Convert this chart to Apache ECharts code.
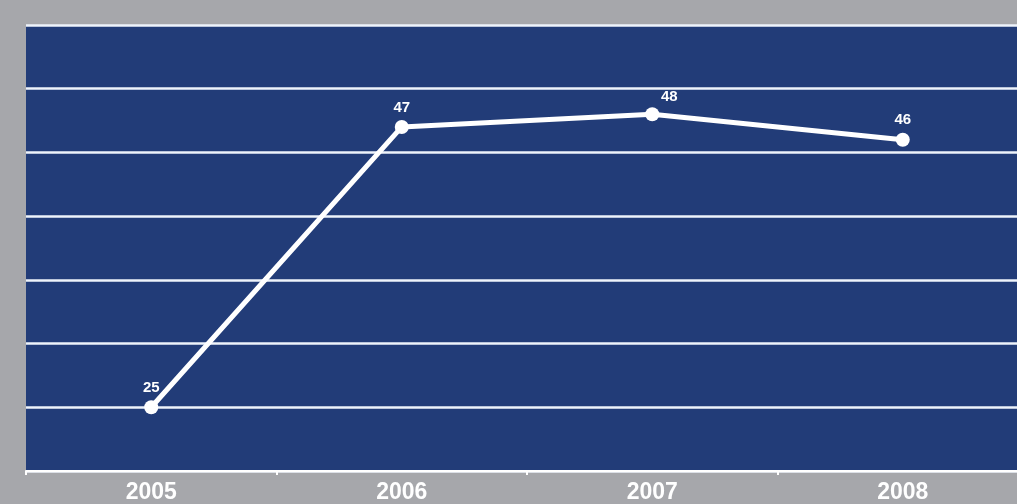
<!DOCTYPE html>
<html><head><meta charset="utf-8">
<script src="https://cdn.jsdelivr.net/npm/echarts@6/dist/echarts.min.js"></script>
<style>html,body{margin:0;padding:0;background:#a6a7ab;}#c{width:1017px;height:504px;}</style>
</head><body><div id="c"></div>
<script>
const categories = ['2005', '2006', '2007', '2008'];
const values = [25, 47, 48, 46];
const yMin = 20, yMax = 55, yStep = 5;

const chart = echarts.init(document.getElementById('c'));
const seriesData = values.map((v, i) => i === 2
  ? {value: v, label: {offset: [17, 2]}}
  : {value: v});
chart.setOption({
  backgroundColor: '#a6a7ab',
  animation: false,
  grid: {left: 26, top: 25, width: 1002, height: 446, show: true, backgroundColor: '#223c78', borderWidth: 0, outerBoundsMode: 'none', containLabel: false},
  xAxis: {
    type: 'category', data: categories, boundaryGap: true,
    axisLine: {lineStyle: {color: '#ffffff', width: 2}},
    axisTick: {show: true, length: 4, lineStyle: {color: '#ffffff', width: 2}},
    axisLabel: {color: '#ffffff', fontFamily: 'Liberation Sans', fontWeight: 'bold', fontSize: 23, margin: 10},
    splitLine: {show: false}
  },
  yAxis: {
    type: 'value', min: yMin, max: yMax, interval: yStep,
    axisLine: {show: false}, axisTick: {show: false}, axisLabel: {show: false},
    splitLine: {lineStyle: {color: '#eef3fb', width: 2.5}}
  },
  series: [{
    type: 'line', data: seriesData,
    lineStyle: {color: '#ffffff', width: 5},
    itemStyle: {color: '#ffffff'},
    symbol: 'circle', symbolSize: 14,
    label: {show: true, position: 'top', distance: 5, color: '#ffffff', fontFamily: 'Liberation Sans', fontWeight: 'bold', fontSize: 15}
  }]
});
</script></body></html>
